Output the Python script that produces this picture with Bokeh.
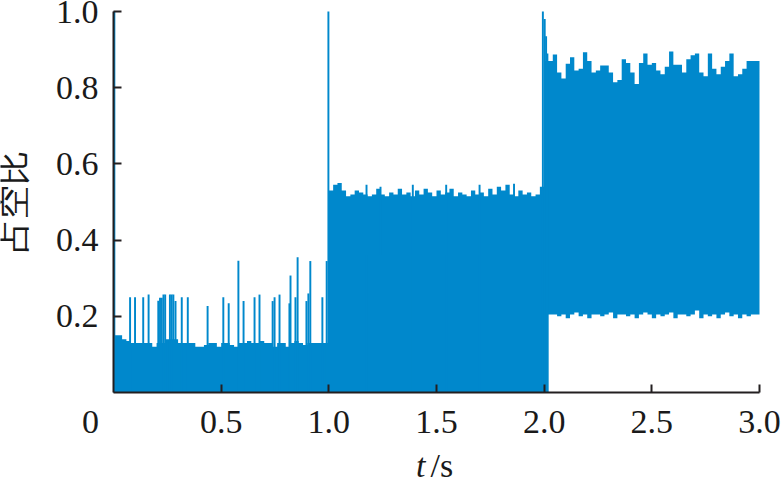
import numpy as np
from bokeh.plotting import figure
from bokeh.models import Label, Range1d, FixedTicker
from bokeh.embed import file_html
from bokeh.resources import INLINE

# ---- data (sample step 0.02 s) ----
upper_a = [0.15, 0.15, 0.14, 0.135, 0.13, 0.13, 0.13, 0.13, 0.13, 0.12,
           0.13, 0.13, 0.14, 0.14, 0.14, 0.13, 0.13, 0.13, 0.13, 0.12,
           0.12, 0.125, 0.13, 0.13, 0.12, 0.13, 0.13, 0.125, 0.12, 0.13,
           0.13, 0.135, 0.13, 0.13, 0.135, 0.13, 0.13, 0.12, 0.13, 0.13,
           0.12, 0.13, 0.135, 0.13, 0.125, 0.13, 0.13, 0.13, 0.13, 0.13]
upper_b = [0.53, 0.545, 0.55, 0.53, 0.515, 0.52, 0.53, 0.525, 0.52, 0.515,
           0.52, 0.535, 0.52, 0.515, 0.525, 0.52, 0.535, 0.52, 0.525, 0.515,
           0.53, 0.52, 0.535, 0.525, 0.515, 0.53, 0.52, 0.525, 0.535, 0.515,
           0.525, 0.52, 0.515, 0.53, 0.52, 0.525, 0.515, 0.535, 0.52, 0.54,
           0.53, 0.545, 0.52, 0.515, 0.53, 0.52, 0.525, 0.515, 0.52, 0.54]
upper_c = [0.87, 0.87, 0.887, 0.84, 0.824, 0.863, 0.88, 0.845, 0.85, 0.893,
           0.87, 0.84, 0.845, 0.858, 0.858, 0.84, 0.814, 0.82, 0.875, 0.865,
           0.84, 0.81, 0.865, 0.89, 0.86, 0.865, 0.845, 0.835, 0.855, 0.895,
           0.86, 0.86, 0.84, 0.875, 0.885, 0.89, 0.84, 0.83, 0.89, 0.85,
           0.835, 0.855, 0.87, 0.89, 0.83, 0.835, 0.85, 0.87, 0.87, 0.87]
lower_c = [0.0, 0.205, 0.205, 0.2, 0.205, 0.195, 0.205, 0.21, 0.2, 0.205,
           0.195, 0.205, 0.205, 0.2, 0.205, 0.21, 0.195, 0.205, 0.205, 0.2,
           0.205, 0.195, 0.205, 0.21, 0.205, 0.195, 0.205, 0.2, 0.205, 0.21,
           0.195, 0.205, 0.205, 0.2, 0.205, 0.215, 0.195, 0.205, 0.2, 0.205,
           0.195, 0.205, 0.21, 0.2, 0.205, 0.195, 0.205, 0.2, 0.205, 0.205]

spike_t = [0.004, 0.077, 0.100, 0.138, 0.163, 0.208, 0.216, 0.224, 0.232, 0.240,
           0.262, 0.270, 0.278, 0.288, 0.317, 0.345, 0.437, 0.510, 0.535, 0.580,
           0.604, 0.655, 0.678, 0.739, 0.748, 0.771, 0.817, 0.822, 0.845, 0.855,
           0.896, 0.905, 0.914, 0.970, 0.990, 0.998, 1.175, 1.240, 1.390, 1.545,
           1.700, 1.860, 1.994, 2.0025, 2.009, 2.015]
spike_h = [1.0, 0.25, 0.25, 0.25, 0.257, 0.241, 0.249, 0.249, 0.257, 0.257,
           0.257, 0.257, 0.257, 0.24, 0.25, 0.25, 0.227, 0.25, 0.234, 0.346,
           0.24, 0.25, 0.257, 0.24, 0.25, 0.257, 0.234, 0.307, 0.25, 0.355,
           0.24, 0.26, 0.345, 0.25, 0.345, 1.0, 0.545, 0.54, 0.545, 0.545,
           0.545, 0.548, 1.0, 0.98, 0.935, 0.89]

x_ticks = [0.5, 1.0, 1.5, 2.0, 2.5, 3.0]
x_tick_labels = ["0.5", "1.0", "1.5", "2.0", "2.5", "3.0"]
y_ticks = [0.2, 0.4, 0.6, 0.8, 1.0]
y_tick_labels = ["0.2", "0.4", "0.6", "0.8", "1.0"]
x_lim = (0.0, 3.0)
y_lim = (0.0, 1.0)

# ---- assemble ----
t = list(np.round(np.arange(0, 150) * 0.02, 2)) + [3.0]
upper = upper_a + upper_b + upper_c + [upper_c[-1]]
lower = [0.0] * 100 + lower_c + [lower_c[-1]]

BLUE = "#0088CC"
DARK = "#231F20"
TXT = "#1a1a1a"
SERIF = "Liberation Serif"

# frame spans the whole canvas; axes sit at the data origin
W, H = 784, 480
PX_X = 646 / 3.0   # pixels per second
PX_Y = 381 / 1.0   # pixels per unit duty
x_range = Range1d(-113 / PX_X, 3.0 + 25 / PX_X)
y_range = Range1d(-88 / PX_Y, 1.0 + 11 / PX_Y)

p = figure(width=W, height=H, output_backend="svg", toolbar_location=None,
           x_range=x_range, y_range=y_range,
           min_border_left=0, min_border_right=0, min_border_top=0,
           min_border_bottom=0)
p.outline_line_color = None
p.grid.visible = False

p.varea_step(x=t, y1=lower, y2=upper, step_mode="after", fill_color=BLUE)
p.vbar(x=spike_t, top=spike_h, bottom=0, width=0.009, fill_color=BLUE, line_color=None)

for ax in (p.xaxis[0], p.yaxis[0]):
    ax.fixed_location = 0
    ax.axis_line_color = DARK
    ax.axis_line_width = 2
    ax.major_tick_line_color = DARK
    ax.major_tick_line_width = 2
    ax.major_tick_in = 8
    ax.major_tick_out = 0
    ax.minor_tick_line_color = None
    ax.major_label_text_font = SERIF
    ax.major_label_text_font_size = "34px"
    ax.major_label_text_color = TXT

p.xaxis.bounds = x_lim
p.xaxis.ticker = FixedTicker(ticks=x_ticks)
p.xaxis.major_label_overrides = dict(zip(x_ticks, x_tick_labels))
p.xaxis.major_label_standoff = 18
p.yaxis.bounds = y_lim
p.yaxis.ticker = FixedTicker(ticks=y_ticks)
p.yaxis.major_label_standoff = 15
p.yaxis.major_label_overrides = dict(zip(y_ticks, y_tick_labels))

p.yaxis.axis_label = "占空比"
p.yaxis.axis_label_text_font = SERIF
p.yaxis.axis_label_text_font_size = "34px"
p.yaxis.axis_label_text_font_style = "normal"
p.yaxis.axis_label_text_color = TXT
p.yaxis.axis_label_standoff = 21

# origin label and x-axis title
p.add_layout(Label(x=-23 / PX_X, y=-29 / PX_Y, text="0",
                   text_font=SERIF, text_font_size="34px", text_align="center",
                   text_baseline="alphabetic", text_color=TXT))
p.add_layout(Label(x=312 / PX_X, y=-73 / PX_Y, text="t",
                   text_font=SERIF, text_font_style="italic", text_font_size="34px",
                   text_align="right", text_baseline="alphabetic", text_color=TXT))
p.add_layout(Label(x=317 / PX_X, y=-73 / PX_Y, text="/s",
                   text_font=SERIF, text_font_size="34px", text_align="left",
                   text_baseline="alphabetic", text_color=TXT))

open("out.html", "w").write(file_html(p, INLINE))
